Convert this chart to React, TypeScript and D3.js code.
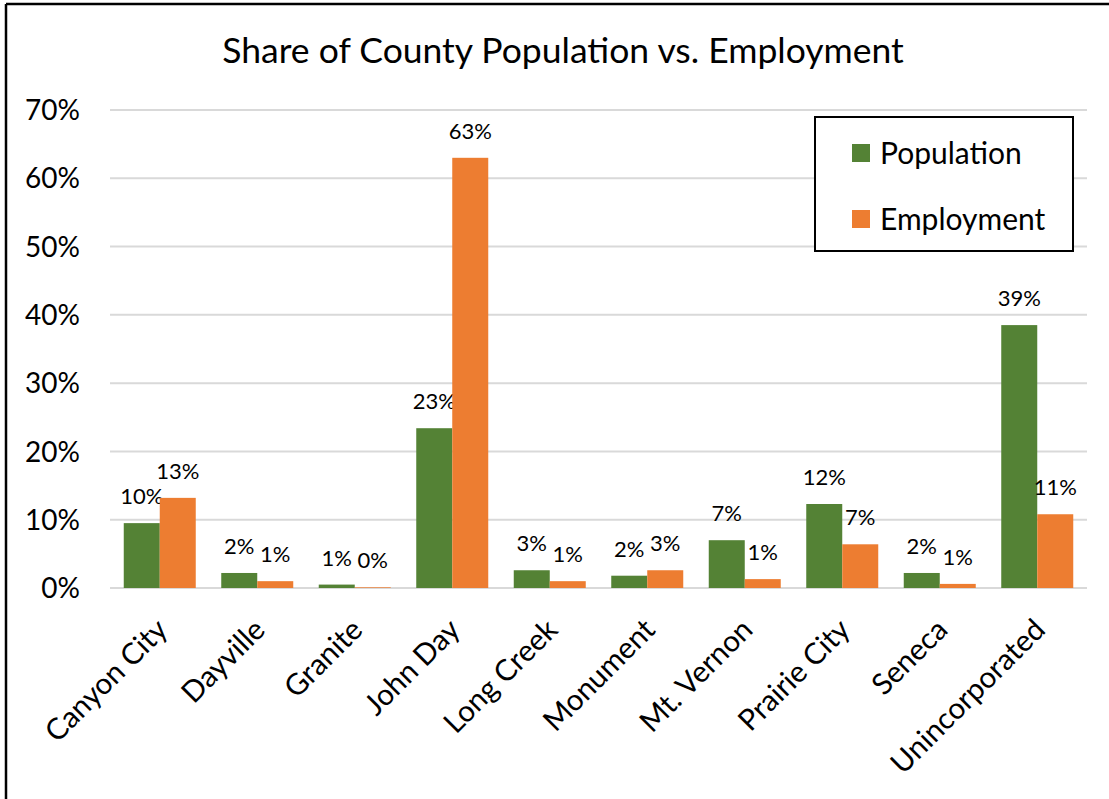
import React from "react";
import * as d3 from "d3";

const categories = ["Canyon City", "Dayville", "Granite", "John Day", "Long Creek", "Monument", "Mt. Vernon", "Prairie City", "Seneca", "Unincorporated"];
const population = [9.5, 2.2, 0.5, 23.4, 2.6, 1.8, 7.0, 12.3, 2.2, 38.5];
const employment = [13.2, 1.0, 0.1, 63.0, 1.0, 2.6, 1.3, 6.4, 0.6, 10.8];
const popLabels = ["10%", "2%", "1%", "23%", "3%", "2%", "7%", "12%", "2%", "39%"];
const empLabels = ["13%", "1%", "0%", "63%", "1%", "3%", "1%", "7%", "1%", "11%"];
const yTicks = [0, 10, 20, 30, 40, 50, 60, 70];
const seriesNames = ["Population", "Employment"];
const colors = ["#548235", "#ED7D31"];

const W = 1109;
const H = 799;
const FONT = "Lato, 'Open Sans', sans-serif";

export default function App() {
  const x = d3.scaleBand<string>().domain(categories).range([111, 1086]).paddingInner(0).paddingOuter(0);
  const y = d3.scaleLinear().domain([0, 70]).range([588, 110]);
  const step = x.bandwidth();
  const barW = 36;
  const series = [population, employment];
  const labels = [popLabels, empLabels];

  return (
    <svg width={W} height={H} style={{ position: "absolute", left: 0, top: 0, background: "#fff" }}>
      <rect x={0} y={0} width={W} height={H} fill="#fff" />
      <line x1={6} y1={4} x2={W} y2={4} stroke="#000" strokeWidth={2.5} />
      <line x1={6} y1={4} x2={6} y2={H} stroke="#000" strokeWidth={2.5} />
      <text x={563} y={63} textAnchor="middle" fontFamily={FONT} fontSize={35.5} fill="#000">
        Share of County Population vs. Employment
      </text>
      {yTicks.map((t) => (
        <g key={t}>
          <line x1={110} x2={1087} y1={y(t)} y2={y(t)} stroke="#d9d9d9" strokeWidth={2} />
          <text x={80} y={y(t)} dy="0.36em" textAnchor="end" fontFamily={FONT} fontSize={28} fill="#000">
            {t}%
          </text>
        </g>
      ))}
      {categories.map((c, i) => {
        const cx = (x(c) as number) + step / 2;
        return (
          <g key={c}>
            {series.map((s, k) => {
              const bx = cx - barW + k * barW;
              const top = y(s[i]);
              return (
                <g key={k}>
                  <rect x={bx} y={top} width={barW} height={y(0) - top} fill={colors[k]} />
                  <text x={bx + barW / 2} y={top - 19} textAnchor="middle" fontFamily={FONT} fontSize={22} fill="#000">
                    {labels[k][i]}
                  </text>
                </g>
              );
            })}
            <text
              transform={`translate(${cx - 5},${617}) rotate(-45)`}
              textAnchor="end"
              dy="0.7em"
              fontFamily={FONT}
              fontSize={29.5}
              fill="#000"
            >
              {c}
            </text>
          </g>
        );
      })}
      <rect x={815} y={117} width={258} height={134} fill="#fff" stroke="#000" strokeWidth={2} />
      {seriesNames.map((n, k) => (
        <g key={n}>
          <rect x={852} y={144 + k * 66} width={18} height={18} fill={colors[k]} />
          <text x={880} y={153 + k * 66} dy="0.36em" fontFamily={FONT} fontSize={30} fill="#000">
            {n}
          </text>
        </g>
      ))}
    </svg>
  );
}
